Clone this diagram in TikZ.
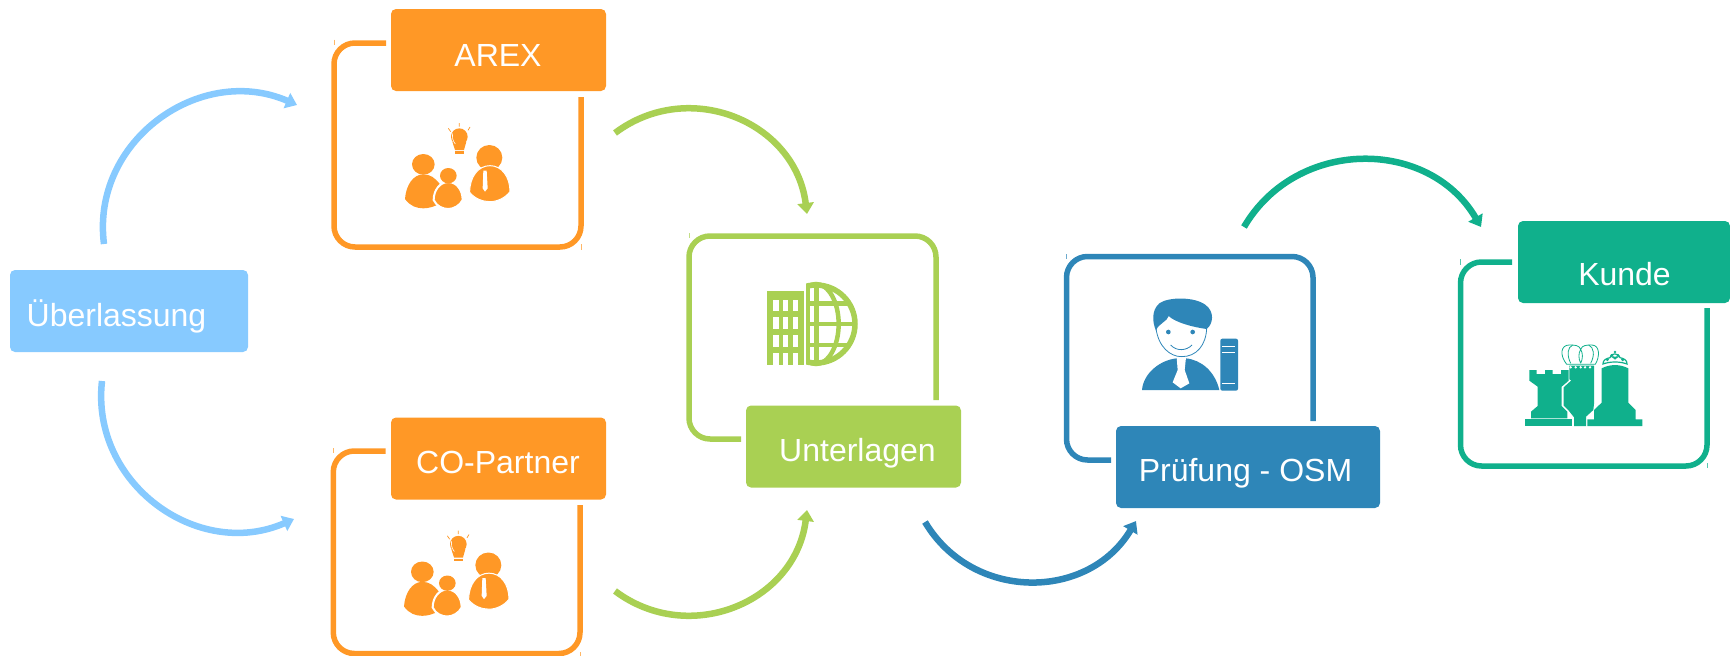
\documentclass[tikz,border=0pt]{standalone}
\usepackage{fontspec}
\setmainfont{Liberation Sans}
\usetikzlibrary{arrows.meta}
\definecolor{cOrange}{HTML}{FF9826}
\definecolor{cGreen}{HTML}{A9D053}
\definecolor{cBlue}{HTML}{2E86B8}
\definecolor{cTeal}{HTML}{10B08C}
\definecolor{cSky}{HTML}{87CAFF}
\tikzset{
  tagbox/.style={fill=#1,rounded corners=5pt,inner sep=0pt,minimum width=215pt,minimum height=82pt},
  taglabel/.style={anchor=base,text=white,inner sep=0pt,font=\fontsize{32}{36}\selectfont},
  framepath/.style={draw=#1,line width=5.5pt,rounded corners=21pt},
  flow/.style={draw=#1,line width=6.5pt,-{Triangle[length=11pt,width=16pt]}},
  tick/.style={draw=#1,line width=0.7pt},
  icon/.style={scale=0.33333}
}
\newcommand{\peopleicon}[2]{%
\begin{scope}[shift={(#1,#2)},icon]
  % left person
  \fill[cOrange] (310,493) ellipse (34pt and 31pt);
  \fill[cOrange] (255,597) .. controls (258,555) and (280,523) .. (310,523) .. controls (330,523) and (345,533) .. (360,553) -- (360,610) .. controls (345,620) and (325,625) .. (310,625) .. controls (290,625) and (270,618) .. (255,597) -- cycle;
  % small person
  \draw[white,line width=2pt,fill=cOrange] (341,600) .. controls (341,570) and (360,546) .. (385,546) .. controls (410,546) and (428,570) .. (428,600) .. controls (420,617) and (400,627) .. (385,627) .. controls (370,627) and (350,620) .. (341,600) -- cycle;
  \fill[cOrange] (385,527) ellipse (25pt and 23pt);
  % right person
  \fill[cOrange] (508,473) ellipse (39pt and 38pt);
  \draw[white,line width=1pt,fill=cOrange] (449,577) .. controls (449,530) and (475,497) .. (510,497) .. controls (545,497) and (570,530) .. (570,575) .. controls (555,595) and (530,605) .. (510,605) .. controls (490,605) and (465,597) .. (449,577) -- cycle;
  \fill[white] (490,512) -- (500,512) -- (503,565) -- (495,575) -- (488,565) -- cycle;
  % bulb
  \fill[cOrange] (418,410) circle (25pt);
  \fill[cOrange] (397,425) -- (439,425) -- (432,450) -- (405,450) -- cycle;
  \draw[white,line width=0.6pt] (398,400) .. controls (396,412) and (398,422) .. (406,432);
  \fill[cOrange] (404,454) rectangle (433,461);
  \draw[cOrange,line width=0.7pt] (418,369) -- (418,380) (385,385) -- (392,395) (450,381) -- (444,391);
\end{scope}}
\begin{document}
\begin{tikzpicture}[x=1pt,y=-1pt]
\useasboundingbox (0,0) rectangle (1730,656);

% frames
\draw[framepath=cOrange] (386,43) -- (334,43) -- (334,247) -- (581,247) -- (581,97);
\draw[framepath=cOrange] (385.5,451) -- (333.3,451) -- (333.3,653.5) -- (580,653.5) -- (580,505);
\draw[framepath=cGreen] (741,439) -- (689,439) -- (689,236) -- (936,236) -- (936,400);
\draw[framepath=cBlue] (1111,460) -- (1066.5,460) -- (1066.5,256.5) -- (1313,256.5) -- (1313,421);
\draw[framepath=cTeal] (1512,262) -- (1460.5,262) -- (1460.5,466) -- (1707,466) -- (1707,308);

% faint corner ticks
\draw[tick=cOrange!70] (334,39.5) -- (334,45) (581,244) -- (581,250);
\draw[tick=cOrange!70] (333.3,448) -- (333.3,453) (580,652) -- (580,656);
\draw[tick=cGreen!70] (689,233) -- (689,238);
\draw[tick=cBlue!70] (1066.5,254) -- (1066.5,259);
\draw[tick=cTeal!70] (1460.5,259) -- (1460.5,265) (1707,463) -- (1707,468);

% tag boxes
\node[tagbox=cSky,minimum width=238pt] (ueber) at (129,311) {};
\node[tagbox=cOrange] (arex) at (498.5,50) {};
\node[tagbox=cOrange] (copartner) at (498.5,458.5) {};
\node[tagbox=cGreen] (unterlagen) at (853.5,446.5) {};
\node[tagbox=cBlue,minimum width=264pt] (pruefung) at (1248,467) {};
\node[tagbox=cTeal,minimum width=212pt] (kunde) at (1624,262) {};

% labels
\node[taglabel] (tUeber) at (116.5,326) {Überlassung};
\node[taglabel] (tArex) at (498,66) {AREX};
\node[taglabel] (tCo) at (498,473) {CO-Partner};
\node[taglabel] (tUnter) at (857.5,461) {Unterlagen};
\node[taglabel] (tPruef) at (1245.5,481) {Prüfung - OSM};
\node[taglabel] (tKunde) at (1624.5,285) {Kunde};

% connectors
\coordinate (f1a) at (104,244);   \coordinate (f1b) at (297,105);
\coordinate (f2a) at (102,381);   \coordinate (f2b) at (294,519);
\coordinate (f3a) at (615,133);   \coordinate (f3b) at (807,214);
\coordinate (f4a) at (615,591);   \coordinate (f4b) at (807,510);
\coordinate (f5a) at (925,522);   \coordinate (f5b) at (1136,521);
\coordinate (f6a) at (1244,227);  \coordinate (f6b) at (1481,227);
\draw[flow=cSky] (f1a) .. controls (90.7,141) and (200.2,63) .. (f1b);
\draw[flow=cSky] (f2a) .. controls (90.4,483.5) and (197.9,561) .. (f2b);
\draw[flow=cGreen] (f3a) .. controls (689.3,77.3) and (795.5,121.8) .. (f3b);
\draw[flow=cGreen] (f4a) .. controls (689.3,646.7) and (795.5,602.2) .. (f4b);
\draw[flow=cBlue] (f5a) .. controls (972.6,601.9) and (1088.4,600.9) .. (f5b);
\draw[flow=cTeal] (f6a) .. controls (1296.3,137.5) and (1428.7,137.5) .. (f6b);

% people icons
\peopleicon{320}{0}
\peopleicon{319}{407.5}

% building and globe icon
\begin{scope}[shift={(680,220)},icon]
  \fill[cGreen] (261,212) rectangle (372,435);
  \foreach \cx in {279,308,338} {
    \foreach \ry/\rh in {240/32,292/35,346/35,400/35} {
      \fill[white] (\cx,\ry) rectangle ++(17,\rh);
    }
  }
  \begin{scope}
    \clip (378,180) rectangle (540,445);
    \draw[cGreen,line width=5.5pt] (408,312) circle (117pt);
    \draw[cGreen,line width=4.5pt] (408,312) ellipse (68pt and 120pt);
    \draw[cGreen,line width=5pt] (408,190) -- (408,434);
    \draw[cGreen,line width=4.5pt] (378,250) -- (505,250) (378,312) -- (525,312) (378,375) -- (505,375);
    \fill[cGreen] (378,205) rectangle (389,420);
  \end{scope}
\end{scope}

% person with book icon
\begin{scope}[shift={(1060,250)},icon]
  \draw[cBlue,line width=0.8pt] (288,235) .. controls (295,290) and (330,320) .. (365,320) .. controls (410,320) and (438,285) .. (440,235);
  \fill[cBlue] (288,242) .. controls (276,215) and (275,180) .. (298,160) .. controls (325,140) and (405,140) .. (437,165) .. controls (464,185) and (460,222) .. (440,237) .. controls (400,232) and (345,217) .. (326,198) .. controls (322,215) and (295,220) .. (288,242) -- cycle;
  \fill[cBlue] (325,246) circle (7pt) (398,246) circle (7pt);
  \draw[cBlue,line width=0.8pt] (332,285) .. controls (350,305) and (380,302) .. (396,285);
  \fill[cBlue] (246,420) .. controls (250,370) and (300,330) .. (350,325) -- (378,325) .. controls (425,330) and (465,365) .. (478,420) -- cycle;
  \fill[white] (350,322) -- (378,322) -- (374,360) -- (388,400) -- (362,415) -- (338,397) -- (353,360) -- cycle;
  \fill[cBlue,rounded corners=2pt] (481,266) rectangle (534,422);
  \draw[white,line width=1pt] (487,290) -- (526,290) (487,308) -- (526,308) (487,401) -- (526,401);
\end{scope}

% chess icon
\begin{scope}[shift={(1450,210)},icon]
  % rook
  \fill[cTeal] (225,628) rectangle (367,648);
  \fill[cTeal] (243,625) -- (243,605) -- (263,588) -- (263,530) -- (238,512) -- (238,480) -- (260,480) -- (260,492) -- (285,492) -- (285,480) -- (308,480) -- (308,492) -- (333,492) -- (333,480) -- (356,480) -- (356,512) -- (335,530) -- (335,588) -- (352,605) -- (352,625) -- cycle;
  % queen
  \fill[cTeal] (358,467) -- (432,467) -- (432,582) -- (430,600) -- (408,620) -- (408,648) -- (372,648) -- (372,622) -- (357,603) -- (341,587) -- (341,532) -- (364,511) -- (358,508) -- cycle;
  \foreach \dx in {362,377,392,405,420} { \fill[white] (\dx,472) circle (4pt); }
  \draw[cTeal,line width=0.8pt,fill=white] (350,463) .. controls (328,435) and (332,405) .. (358,405) .. controls (372,405) and (388,405) .. (392,418) .. controls (396,405) and (412,405) .. (425,405) .. controls (450,405) and (450,440) .. (436,463) -- cycle;
  \draw[cTeal,line width=0.8pt] (362,460) .. controls (350,435) and (352,412) .. (368,405) (392,418) .. controls (385,430) and (385,445) .. (392,460) (392,418) .. controls (399,430) and (399,445) .. (392,460) (422,460) .. controls (435,435) and (432,412) .. (416,405);
  % right piece
  \fill[cTeal] (455,475) .. controls (480,462) and (510,462) .. (535,475) -- (535,578) -- (557,600) -- (557,628) -- (577,628) -- (577,648) -- (412,648) -- (412,628) -- (432,628) -- (432,600) -- (455,578) -- cycle;
  % tiara
  \draw[cTeal,line width=1.2pt,fill=white] (459,462) .. controls (458,450) and (470,445) .. (480,443) .. controls (478,428) and (510,428) .. (510,443) .. controls (520,445) and (532,450) .. (531,462) .. controls (510,454) and (480,454) .. (459,462) -- cycle;
  \fill[cTeal] (486,438) circle (5pt) (504,438) circle (5pt) (495,426) circle (4pt) (472,449) circle (5pt) (518,449) circle (5pt) (495,449) -- (484,440) -- (506,440) -- cycle;
\end{scope}
\end{tikzpicture}
\end{document}
